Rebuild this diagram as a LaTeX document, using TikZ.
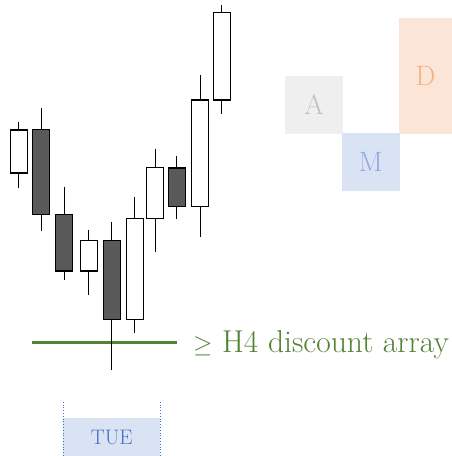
\documentclass[tikz,border=0pt]{standalone}
\usepackage{xcolor}
\usepackage{tikz}
\usepackage{amssymb}
\definecolor{candledark}{HTML}{595959}
\definecolor{arraygreen}{HTML}{548235}
\definecolor{asiafill}{HTML}{EFEFEF}
\definecolor{asiatext}{HTML}{BFBFBF}
\definecolor{londonfill}{HTML}{DAE3F3}
\definecolor{londontext}{HTML}{8FAADC}
\definecolor{nyfill}{HTML}{FBE5D6}
\definecolor{nytext}{HTML}{F4B183}
\definecolor{daytext}{HTML}{4472C4}
\tikzset{
    session/.style={rectangle, inner sep=0pt, font=\fontsize{28}{30}\selectfont},
    wick/.style={black, line width=1pt},
    body/.style={draw=black, line width=1.2pt}
}

\begin{document}
\begin{tikzpicture}[x=1pt, y=-1pt]
    \useasboundingbox (0,0) rectangle (452,456);
    \coordinate (lineL) at (32.3,342.7);
    \coordinate (lineR) at (177.3,342.7);
    \draw[arraygreen, line width=3.5pt] (lineL) --  (lineR);
    \node[anchor=base west, inner sep=0pt, text=arraygreen, font=\fontsize{31.6}{33}\selectfont] (label) at (193,352.5) {$\geq$ H4 discount array};
    \foreach \cx/\hi/\op/\cl/\lo/\col in {
        18.7/122/130/173/188/white,
        41.3/108.3/129.3/214.3/230.7/candledark,
        64.3/186.7/214.3/271/280/candledark,
        88.7/230/240.7/271/295.3/white,
        111.7/221.7/240.7/319.7/370/candledark,
        134.7/197/218.3/319.7/333.3/white,
        155.3/148.7/167.7/218.7/252.3/white,
        176.7/156/168/206.3/218.7/candledark,
        200.3/75.3/100/206.3/237/white,
        221.7/5/12.3/100/114.3/white}
    {
        \draw[wick] (\cx,\hi) --  (\cx,\lo);
        \draw[body, fill=\col] (\cx-8.5,\op) rectangle (\cx+8.5,\cl);
    }
    \node[session, fill=asiafill, text=asiatext, minimum width=58pt, minimum height=57.7pt] (asia) at (314,104.85) {A};
    \node[session, fill=londonfill, text=londontext, minimum width=57.7pt, minimum height=58pt] (london) at (370.85,162) {M};
    \node[session, fill=nyfill, text=nytext, minimum width=53pt, minimum height=115.7pt] (newyork) at (425.5,75.85) {D};
    \node[rectangle, inner sep=0pt, fill=londonfill, text=daytext, minimum width=97pt, minimum height=37.7pt, font=\fontsize{21}{24}\selectfont] (tue) at (111.8,437.15) {TUE};
    \coordinate (tueL) at (63.3,401.7);
    \coordinate (tueR) at (160.3,401.7);
    \draw[daytext, dotted, line width=0.8pt] (tueL) --  (tueL |- tue.south);
    \draw[daytext, dotted, line width=0.8pt] (tueR) --  (tueR |- tue.south);
\end{tikzpicture}
\end{document}
